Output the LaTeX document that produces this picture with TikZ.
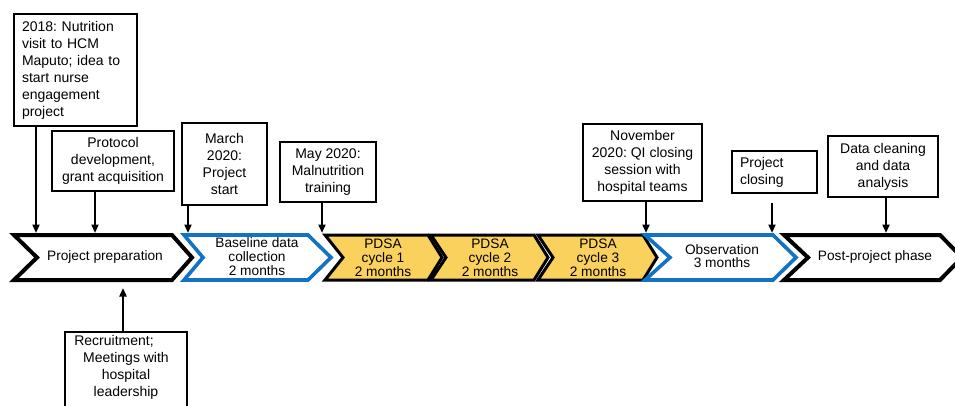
\documentclass[tikz,border=0pt]{standalone}
\usepackage{fontspec}
\setmainfont{Liberation Sans}
\usetikzlibrary{arrows.meta}
\frenchspacing
\definecolor{phaseblue}{RGB}{18,114,196}
\definecolor{pdsayellow}{RGB}{250,209,92}
\tikzset{
  x=1pt, y=-1pt,
  chevblack/.style={draw=black, line width=4pt, fill=white, miter limit=10},
  chevblue/.style={draw=phaseblue, line width=3.6pt, fill=white, miter limit=10},
  chevyellow/.style={draw=black, line width=3pt, fill=pdsayellow, miter limit=10},
  chevtext/.style={align=center, font=\fontsize{13.7}{14}\selectfont, inner sep=0pt},
  eventbox/.style={draw=black, line width=1.6pt, fill=white, align=center,
    font=\fontsize{14}{17}\selectfont, inner xsep=4pt, inner ysep=0pt},
  eventarrow/.style={line width=2pt, -{Triangle[length=8.5pt,width=7pt]}},
}
% one phase of the timeline: left x, notch x, shoulder x, tip x
\newcommand\phasechevron[5]{%
  \path[#1] (#2,235) -- (#4,235) -- (#5,257.5) -- (#4,280) -- (#2,280) -- (#3,257.5) -- cycle;}
\begin{document}
\begin{tikzpicture}
\useasboundingbox (0,0) rectangle (955,406);
\clip (0,0) rectangle (955,406);
\fill[white] (0,0) rectangle (955,406);

% phases
\phasechevron{chevblack}{14}{37}{172}{192}
\phasechevron{chevblue}{184}{203}{308}{331}
\phasechevron{chevyellow}{325}{343}{428}{442}
\phasechevron{chevyellow}{431}{446}{534}{548}
\phasechevron{chevyellow}{538}{553}{643}{657}
\phasechevron{chevblue}{645}{670}{773}{796}
\phasechevron{chevblack}{784}{808}{940}{962}

\node[chevtext] (p1) at (105,257) {Project preparation};
\node[chevtext] (p2) at (257,257) {Baseline data\\collection\\2 months};
\node[chevtext] (p3) at (383,258) {PDSA\\cycle 1\\2 months};
\node[chevtext] (p4) at (490,258) {PDSA\\cycle 2\\2 months};
\node[chevtext] (p5) at (598,258) {PDSA\\cycle 3\\2 months};
\node[chevtext, font=\fontsize{13.7}{12.5}\selectfont] (p6) at (722,256) {Observation\\3 months};
\node[chevtext] (p7) at (875,257) {Post-project phase};

% arrow end points on the timeline
\coordinate (t1) at (36,233);
\coordinate (t2) at (95,233);
\coordinate (t3) at (188,233);
\coordinate (t4) at (322,233);
\coordinate (t5) at (646,233);
\coordinate (t6) at (772,233);
\coordinate (t7) at (886,233);
\coordinate (t8) at (123,288);

% events
\node[eventbox, align=left, text width=107pt, minimum height=112pt, inner xsep=8pt] (e1) at (75.5,70)
  {2018: Nutrition\\visit to HCM\\Maputo; idea to\\start nurse\\engagement\\project};
\node[eventbox, minimum width=122pt, minimum height=60pt] (e2) at (113,161)
  {Protocol\\development,\\grant acquisition};
\node[eventbox, minimum width=85pt, minimum height=82pt] (e3) at (224.5,164)
  {March\\2020:\\Project\\start};
\node[eventbox, minimum width=96pt, minimum height=60pt] (e4) at (328,172)
  {May 2020:\\Malnutrition\\training};
\node[eventbox, minimum width=119pt, minimum height=77pt] (e5) at (642.5,162.5)
  {November\\2020: QI closing\\session with\\hospital teams};
\node[eventbox, align=left, text width=69pt, inner xsep=8pt, minimum height=42pt] (e6) at (774.5,172)
  {Project\\closing};
\node[eventbox, minimum width=110pt, minimum height=61pt] (e7) at (883,166.5)
  {Data cleaning\\and data\\analysis};
\node[eventbox, anchor=north, minimum width=122pt, inner ysep=4pt] (e8) at (126,331)
  {Recruitment;\hspace*{24pt}\\Meetings with\\hospital\\leadership\\\mbox{}};

% connectors
\draw[eventarrow] (e1.south -| t1) -- (t1);
\draw[eventarrow] (e2.south -| t2) -- (t2);
\draw[eventarrow] (e3.south -| t3) -- (t3);
\draw[eventarrow] (e4.south -| t4) -- (t4);
\draw[eventarrow] (e5.south -| t5) -- (t5);
\draw[eventarrow, shorten <=9pt] (e6.south -| t6) -- (t6);
\draw[eventarrow] (e7.south -| t7) -- (t7);
\draw[eventarrow] (e8.north -| t8) -- (t8);
\end{tikzpicture}
\end{document}
